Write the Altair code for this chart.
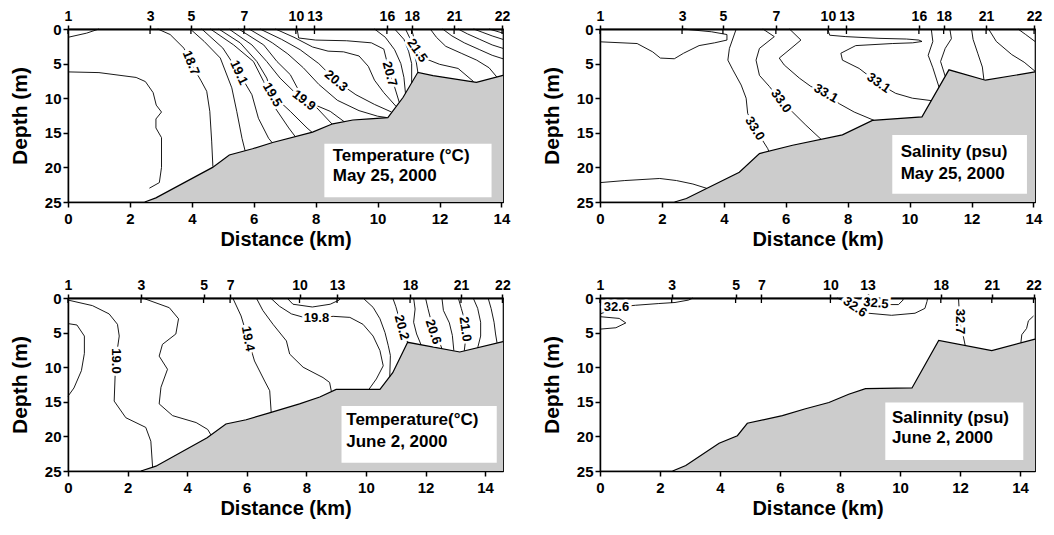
import json
import altair as alt
import pandas as pd

FONT = "Liberation Sans"
FILL = "#cccccc"

# ---------------- stations (distance km) and their numbers ----------------
st_may_km = [0, 2.65, 3.97, 5.68, 7.36, 7.96, 10.3, 11.1, 12.47, 14.02]
st_may_lab = ["1", "3", "5", "7", "10", "13", "16", "18", "21", "22"]
st_junT_km = [0, 2.45, 4.55, 5.44, 7.77, 9.03, 11.48, 13.19, 14.58]
st_junS_km = [0, 2.39, 4.52, 5.38, 7.68, 8.92, 11.36, 13.06, 14.45]
st_jun_lab = ["1", "3", "5", "7", "10", "13", "18", "21", "22"]

# x-axis extents (km)
xmax_may = 14.05
xmax_junT = 14.6
xmax_junS = 14.5

# ---------------- bathymetry (distance km, depth m) ----------------
bathy_mayT_x = [2.48, 2.84, 4.67, 5.21, 5.96, 6.61, 7.9, 8.55, 9.2, 9.74, 10.33, 10.82, 11.3, 11.79, 13.19, 14.05]
bathy_mayT_d = [25, 24.4, 20.0, 18.2, 17.3, 16.4, 14.9, 13.7, 13.15, 13.0, 12.8, 9.9, 6.26, 6.74, 7.7, 6.7]
bathy_mayS_x = [2.41, 2.79, 4.5, 5.15, 6.22, 7.83, 8.8, 10.4, 11.27, 12.45, 14.05]
bathy_mayS_d = [25, 24.5, 20.7, 18.0, 16.8, 15.3, 13.2, 12.7, 5.9, 7.4, 6.2]
bathy_junT_x = [2.45, 2.95, 4.67, 5.3, 5.98, 6.76, 7.77, 8.45, 9.0, 10.47, 10.9, 11.4, 13.15, 14.6]
bathy_junT_d = [25, 24.3, 20.2, 18.2, 17.6, 16.6, 15.3, 14.3, 13.2, 13.2, 10.8, 6.4, 7.8, 6.3]
bathy_junS_x = [2.42, 2.86, 3.97, 4.58, 4.91, 6.08, 6.85, 7.63, 8.29, 8.85, 10.4, 11.29, 13.06, 14.5]
bathy_junS_d = [25, 24.2, 21.0, 19.9, 18.1, 17.0, 16.0, 15.1, 13.9, 13.1, 13.0, 6.14, 7.6, 5.95]

# ---------------- contour lines: (value, [(km, depth), ...]) ----------------
temp_may_lines = [
    ("18.5", [(0, 1.2), (0.6, 0.6), (1.0, 0)]),
    ("18.5", [(0, 6.2), (1.0, 6.3), (2.2, 7.0), (2.5, 7.6), (2.75, 9.2), (2.85, 11.0), (3.02, 12.0), (2.84, 13.0),
              (2.84, 14.3), (3.02, 15.7), (3.02, 20.0), (2.95, 22.2), (2.63, 23.0)]),
    ("18.7", [(2.9, 0), (3.3, 0.8), (3.75, 2.8), (3.95, 4.8), (4.3, 7.5), (4.48, 9.0), (4.58, 11.9), (4.64, 16.2), (4.68, 19.9)]),
    ("18.9", [(3.95, 0), (4.4, 1.8), (4.92, 4.2), (5.29, 8.5), (5.45, 11.9), (5.62, 15.8), (5.72, 17.6)]),
    ("19.1", [(4.32, 0), (5.0, 2.75), (5.52, 6.3), (5.94, 9.5), (6.15, 12.9), (6.48, 15.8), (6.6, 16.45)]),
    ("19.3", [(4.6, 0), (5.35, 2.3), (5.99, 4.7), (6.32, 7.6), (6.69, 11.4), (7.13, 14.3), (7.34, 15.55)]),
    ("19.5", [(4.87, 0), (5.56, 2.0), (6.1, 4.7), (6.42, 7.1), (6.6, 9.5), (7.18, 11.9), (7.72, 14.3), (7.88, 14.92)]),
    ("19.7", [(5.2, 0), (5.94, 2.3), (6.42, 4.7), (6.85, 7.1), (7.4, 9.5), (8.04, 11.4), (8.53, 13.74)]),
    ("19.9", [(5.51, 0), (6.32, 2.3), (6.75, 4.7), (7.18, 6.6), (7.62, 10.3), (8.47, 11.9), (8.92, 13.39)]),
    ("20.1", [(5.85, 0), (6.6, 2.0), (7.1, 3.6), (7.6, 5.6), (8.1, 8.0), (8.7, 10.3), (9.4, 11.8), (10.0, 12.6), (10.3, 12.8)]),
    ("20.3", [(6.2, 0), (6.9, 1.5), (7.5, 3.0), (8.1, 5.0), (8.66, 7.5), (9.3, 9.5), (9.9, 10.9), (10.45, 12.0)]),
    ("20.5", [(6.7, 0), (7.3, 1.2), (7.9, 2.6), (8.4, 3.2), (8.9, 3.3), (9.4, 3.9), (9.7, 5.4), (9.9, 7.4), (10.2, 9.2), (10.6, 11.2)]),
    ("20.7", [(7.4, 0), (7.45, 1.3), (8.0, 1.6), (9.0, 1.7), (9.8, 2.0), (10.2, 2.9), (10.3, 4.7), (10.39, 6.5), (10.55, 8.4), (10.7, 10.6)]),
    ("20.9", [(9.9, 0), (10.25, 1.2), (10.55, 3.0), (10.75, 5.0), (10.85, 7.0), (10.9, 9.3)]),
    ("21.1", [(10.55, 0), (10.85, 1.5), (11.0, 3.2), (11.1, 5.0), (11.1, 7.8)]),
    ("21.3", [(10.9, 0), (11.05, 1.4), (11.15, 3.0), (11.25, 4.8), (11.3, 6.26)]),
    ("21.5", [(11.1, 0), (11.2, 1.8), (11.28, 3.1), (11.55, 4.3), (12.0, 5.1), (12.6, 5.7), (13.1, 7.6)]),
    ("21.7", [(11.7, 0), (11.9, 1.2), (12.2, 2.5), (12.7, 3.5), (13.2, 4.5), (13.6, 5.6), (13.85, 6.93)]),
    ("21.9", [(12.1, 0), (12.4, 1.0), (12.8, 2.0), (13.3, 3.0), (13.7, 3.8), (14.05, 4.3)]),
    ("22.1", [(12.6, 0), (12.9, 0.7), (13.3, 1.5), (13.7, 2.3), (14.05, 2.8)]),
    ("22.3", [(13.1, 0), (13.4, 0.5), (13.7, 1.0), (14.05, 1.5)]),
    ("22.5", [(13.6, 0), (14.05, 0.6)]),
]
temp_may_labels = [("18.7", 3.97, 4.9, 68), ("19.1", 5.52, 6.3, 65), ("19.5", 6.6, 9.5, 60), ("19.9", 7.62, 10.3, 38),
                   ("20.3", 8.66, 7.5, 40), ("20.7", 10.39, 6.5, 75), ("21.5", 11.28, 3.1, 55)]

sal_may_lines = [
    ("32.9", [(0, 1.85), (1.2, 2.1), (1.7, 3.3), (1.95, 4.2), (2.4, 4.3), (2.7, 3.5), (3.2, 2.4), (3.7, 2.0), (4.1, 1.6),
              (4.1, 0.8), (3.6, 0.4), (2.9, 0.1), (2.7, 0)]),
    ("32.9", [(0, 22.2), (0.8, 21.9), (1.93, 21.6), (2.47, 21.9), (3.0, 22.4), (3.45, 23.03)]),
    ("33.0", [(4.4, 0), (4.18, 2.8), (4.13, 4.5), (4.29, 5.9), (4.56, 8.1), (4.72, 10.0), (4.77, 12.2), (5.04, 14.6),
              (5.42, 17.3), (5.45, 17.66)]),
    ("33.0", [(5.26, 0), (5.63, 1.1), (5.15, 2.8), (5.04, 4.5), (5.15, 6.7), (5.47, 8.3), (5.82, 10.3), (6.22, 12.0),
              (6.65, 13.9), (7.14, 15.94)]),
    ("33.1", [(6.12, 0), (6.49, 1.6), (6.17, 2.8), (5.79, 4.2), (5.95, 5.2), (6.44, 7.1), (6.81, 8.3), (7.3, 9.3),
              (7.73, 10.8), (8.21, 12.0), (8.85, 13.2)]),
    ("33.1", [(7.35, 0), (7.42, 0.9), (7.94, 1.1), (9.01, 1.35), (9.9, 1.45), (10.3, 1.6), (10.4, 1.8), (10.1, 2.0),
              (9.44, 2.1), (8.26, 2.4), (7.78, 3.5), (7.83, 4.5), (8.37, 5.7), (9.01, 7.9), (9.55, 9.3), (10.09, 10.0),
              (10.7, 10.35)]),
    ("33.2", [(10.7, 0), (10.75, 1.8), (10.6, 3.8), (10.75, 5.6), (10.95, 8.4)]),
    ("33.3", [(11.3, 0), (11.35, 1.4), (11.15, 2.8), (11.0, 4.7), (11.15, 6.84)]),
    ("33.4", [(12.0, 0), (12.05, 1.5), (12.2, 3.5), (12.35, 5.5), (12.4, 7.34)]),
    ("33.5", [(12.55, 0), (12.8, 1.8), (13.3, 3.7), (13.7, 4.8), (14.05, 6.1)]),
    ("33.6", [(13.5, 0), (13.75, 0.8), (14.05, 1.8)]),
]
sal_may_labels = [("33.0", 5.0, 14.4, 58), ("33.0", 5.85, 10.4, 55), ("33.1", 7.3, 9.3, 30), ("33.1", 9.0, 7.8, 35)]

temp_jun_lines = [
    ("18.8", [(0, 3.7), (0.3, 3.9), (0.55, 5.5), (0.55, 8.0), (0.45, 10.5), (0.2, 13.0), (0, 14.2)]),
    ("19.0", [(0, 0.3), (0.82, 1.1), (1.38, 2.3), (1.66, 3.8), (1.72, 5.5), (1.6, 9.1), (1.55, 14.9), (1.94, 17.3),
              (2.61, 18.7), (2.78, 20.7), (2.84, 24.5)]),
    ("19.2", [(2.5, 0), (3.4, 1.4), (3.71, 3.0), (3.62, 5.2), (3.17, 6.7), (3.06, 8.4), (3.34, 10.3), (3.12, 12.9),
              (3.06, 15.3), (3.51, 17.0), (4.3, 18.0), (4.69, 19.0), (4.8, 19.8)]),
    ("19.4", [(5.53, 0), (5.81, 2.6), (6.04, 5.9), (6.26, 9.1), (6.6, 12.0), (6.77, 13.4), (6.82, 16.52)]),
    ("19.6", [(6.32, 0), (6.54, 1.8), (6.88, 3.8), (7.33, 6.2), (7.44, 8.1), (7.89, 10.0), (8.56, 11.5), (8.78, 12.2), (8.84, 13.5)]),
    ("19.8", [(6.8, 0), (7.1, 1.2), (7.5, 2.3), (8.0, 2.9), (8.34, 2.9), (8.9, 2.65), (9.46, 2.8), (9.9, 3.8), (10.24, 5.5),
              (10.47, 7.6), (10.58, 9.8), (10.35, 11.7), (10.1, 13.2)]),
    ("20.0", [(7.35, 0), (7.55, 0.9), (8.2, 1.3), (8.8, 0.9), (9.1, 0.3), (9.15, 0)]),
    ("20.0", [(9.9, 0), (10.24, 1.35), (10.47, 3.0), (10.64, 5.0), (10.75, 6.9), (10.82, 8.3), (10.8, 11.36)]),
    ("20.2", [(10.9, 0), (11.0, 1.2), (11.12, 3.0), (11.2, 4.25), (11.3, 5.6), (11.4, 6.4)]),
    ("20.4", [(11.6, 0), (11.65, 1.6), (11.6, 3.5), (11.7, 5.2), (11.85, 6.76)]),
    ("20.6", [(12.0, 0), (12.08, 1.5), (12.18, 3.2), (12.26, 4.9), (12.45, 6.2), (12.55, 7.3)]),
    ("20.8", [(12.55, 0), (12.6, 1.8), (12.8, 3.6), (12.9, 5.4), (12.95, 7.6)]),
    ("21.0", [(13.1, 0), (13.2, 1.5), (13.3, 3.0), (13.33, 4.5), (13.35, 5.8), (13.3, 7.64)]),
    ("21.2", [(13.6, 0), (13.75, 1.5), (13.85, 3.5), (13.85, 5.5), (13.75, 7.2)]),
    ("21.4", [(14.1, 0), (14.2, 1.5), (14.3, 3.5), (14.35, 5.2), (14.4, 6.49)]),
]
temp_jun_labels = [("19.0", 1.6, 9.1, 90), ("19.4", 6.04, 5.9, 80), ("19.8", 8.34, 2.9, 0), ("20.2", 11.2, 4.25, 75),
                   ("20.6", 12.26, 4.9, 72), ("21.0", 13.33, 4.5, 82)]

sal_jun_lines = [
    ("32.6", [(0, 2.3), (0.2, 2.0), (0.58, 1.3), (1.18, 1.05), (1.96, 0.8), (2.5, 0.65), (2.95, 0.3), (3.1, 0)]),
    ("32.6", [(0, 2.7), (0.64, 2.95), (0.86, 3.6), (0.53, 4.3), (0, 4.5)]),
    ("32.6", [(7.9, 0), (8.2, 0.6), (8.5, 1.3), (8.94, 2.2), (9.72, 2.5), (10.5, 2.2), (10.83, 1.5), (10.9, 0.5), (10.92, 0)]),
    ("32.5", [(8.7, 0), (8.95, 0.5), (9.2, 0.8), (9.5, 0.95), (9.95, 0.95), (10.1, 0.3), (10.1, 0)]),
    ("32.7", [(11.95, 0), (11.97, 1.5), (12.0, 3.4), (12.1, 5.3), (12.17, 6.8)]),
    ("32.7", [(14.45, 2.6), (14.28, 3.3), (14.22, 4.4), (14.06, 5.3), (14.03, 6.45)]),
]
sal_jun_labels = [("32.6", 0.55, 1.3, 0), ("32.6", 8.5, 1.3, 35), ("32.5", 9.2, 0.75, 5), ("32.7", 12.0, 3.4, 90)]

# ---------------- panel annotation boxes ----------------
box_mayT = [8.28, 13.68, 16.6, 24.3]
box_mayS = [9.44, 13.79, 15.3, 23.8]
box_junT = [9.18, 14.39, 15.6, 23.8]
box_junS = [9.51, 14.11, 15.1, 23.4]
txt_mayT = [("Temperature (°C)", 8.55, 18.3), ("May 25, 2000", 8.55, 21.3)]
txt_mayS = [("Salinity (psu)", 9.71, 17.8), ("May 25, 2000", 9.71, 20.9)]
txt_junT = [("Temperature(°C)", 9.34, 17.7), ("June 2, 2000", 9.34, 20.75)]
txt_junS = [("Salinnity (psu)", 9.73, 17.4), ("June 2, 2000", 9.73, 20.3)]

PW, PH = 435, 173


def X(field, xmax, axis=None):
    return alt.X(field, type="quantitative",
                 scale=alt.Scale(domain=[0, xmax], nice=False, zero=False), axis=axis)


def Y(field, axis=None):
    return alt.Y(field, type="quantitative",
                 scale=alt.Scale(domain=[0, 25], reverse=True, nice=False, zero=False), axis=axis)


def panel(bx, bd, lines, labels, box, texts, st_km, st_lab, xmax):
    bdf = pd.DataFrame({"x": bx, "d": bd})
    rows = []
    for i, (val, pts) in enumerate(lines):
        for j, (px, pd_) in enumerate(pts):
            rows.append({"id": i, "seq": j, "x": px, "d": pd_, "v": val})
    cdf = pd.DataFrame(rows)
    ldf = pd.DataFrame(labels, columns=["t", "x", "d", "a"])
    boxdf = pd.DataFrame([{"x1": box[0], "x2": box[1], "d1": box[2], "d2": box[3]}])
    tdf = pd.DataFrame(texts, columns=["t", "x", "d"])
    sdf = pd.DataFrame({"x": st_km, "s": st_lab})

    bottom_axis = alt.Axis(orient="bottom", values=[0, 2, 4, 6, 8, 10, 12, 14], format="d",
                           title="Distance (km)", grid=False, labelFlush=False, labelOverlap=False,
                           tickSize=5, labelPadding=4, titlePadding=3,
                           labelFontSize=15, titleFontSize=20,
                           labelFontWeight="bold", titleFontWeight="bold")
    left_axis = alt.Axis(orient="left", values=[0, 5, 10, 15, 20, 25], title="Depth (m)", grid=False,
                         tickSize=5, labelPadding=2, titlePadding=14, labelOverlap=False,
                         labelFontSize=15, titleFontSize=21,
                         labelFontWeight="bold", titleFontWeight="bold")
    label_expr = "%s[indexof(%s, datum.value)]" % (json.dumps(st_lab), json.dumps(st_km))
    top_axis = alt.Axis(orient="top", values=st_km, labelExpr=label_expr, title=None, grid=False,
                        tickSize=4, labelPadding=2, labelFlush=False, labelOverlap=False,
                        labelFontSize=14, labelFontWeight="bold", domainWidth=2.2)

    area = alt.Chart(bdf).mark_area(color=FILL, opacity=1).encode(
        x=X("x", xmax, bottom_axis), y=Y("d", left_axis), y2=alt.datum(25))
    outline = alt.Chart(bdf).mark_line(color="black", strokeWidth=1.2).encode(
        x=X("x", xmax), y=Y("d"))
    contours = alt.Chart(cdf).mark_line(color="black", strokeWidth=0.9).encode(
        x=X("x", xmax), y=Y("d"), detail="id:N", order="seq:Q")
    rect = alt.Chart(boxdf).mark_rect(fill="white").encode(
        x=X("x1", xmax), x2="x2", y=Y("d1"), y2="d2")
    btext = alt.Chart(tdf).mark_text(align="left", baseline="middle", font=FONT, fontSize=17,
                                     fontWeight="bold", color="black").encode(
        x=X("x", xmax), y=Y("d"), text="t:N")
    halo = alt.Chart(ldf).mark_text(font=FONT, fontSize=13, fontWeight="bold", color="white",
                                    stroke="white", strokeWidth=5, baseline="middle").encode(
        x=X("x", xmax), y=Y("d"), text="t:N", angle=alt.Angle("a:Q", scale=None))
    ltext = alt.Chart(ldf).mark_text(font=FONT, fontSize=13, fontWeight="bold", color="black",
                                     baseline="middle").encode(
        x=X("x", xmax), y=Y("d"), text="t:N", angle=alt.Angle("a:Q", scale=None))
    stations = alt.Chart(sdf).mark_rule(color="black", strokeWidth=1.3).encode(
        x=X("x", xmax, top_axis), y=alt.value(0), y2=alt.value(5))

    return alt.layer(area, outline, contours, rect, btext, halo, ltext, stations).properties(
        width=PW, height=PH).resolve_axis(x="independent", y="independent")


p1 = panel(bathy_mayT_x, bathy_mayT_d, temp_may_lines, temp_may_labels, box_mayT, txt_mayT,
           st_may_km, st_may_lab, xmax_may)
p2 = panel(bathy_mayS_x, bathy_mayS_d, sal_may_lines, sal_may_labels, box_mayS, txt_mayS,
           st_may_km, st_may_lab, xmax_may)
p3 = panel(bathy_junT_x, bathy_junT_d, temp_jun_lines, temp_jun_labels, box_junT, txt_junT,
           st_junT_km, st_jun_lab, xmax_junT)
p4 = panel(bathy_junS_x, bathy_junS_d, sal_jun_lines, sal_jun_labels, box_junS, txt_junS,
           st_junS_km, st_jun_lab, xmax_junS)

row1 = alt.hconcat(p1, p2, spacing=29)
row2 = alt.hconcat(p3, p4, spacing=29)
chart = alt.vconcat(row1, row2, spacing=27).properties(padding=0, background="white").configure_view(
    stroke="black", strokeWidth=1.2
).configure_axis(
    domainColor="black", tickColor="black", labelColor="black", titleColor="black",
    labelFont=FONT, titleFont=FONT, domainWidth=1.5, tickWidth=1.5
)

chart.save("out.html", embed_options={"renderer": "svg", "actions": False})
